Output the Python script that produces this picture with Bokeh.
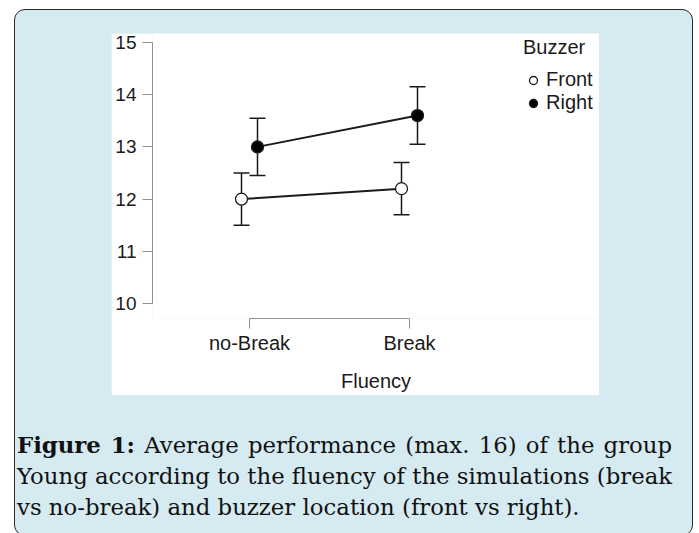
from bokeh.plotting import figure
from bokeh.models import (Legend, LegendItem, Whisker, ColumnDataSource, FixedTicker,
                          Div, Range1d, TeeHead)
from bokeh.layouts import column
from bokeh.transform import dodge
from bokeh.embed import file_html
from bokeh.resources import INLINE

# ---- data ----
fluency_labels = ["no-Break", "Break"]
fluency_pos = [1, 2]
front_mean = [12.0, 12.2]
front_lo = [11.5, 11.7]
front_hi = [12.5, 12.7]
right_mean = [13.0, 13.6]
right_lo = [12.45, 13.05]
right_hi = [13.55, 14.15]
y_ticks = [10, 11, 12, 13, 14, 15]
series_names = ["Front", "Right"]

SANS = "Liberation Sans"
AXIS_GREY = "#8f8f8f"
INK = "#1a1a1a"

p = figure(width=488, height=362,
           x_range=Range1d(0.39375, 3.1875), y_range=Range1d(9.7126, 15.172),
           output_backend="svg", toolbar_location=None,
           min_border_left=41, min_border_right=0, min_border_top=0, min_border_bottom=77)
p.background_fill_color = "white"
p.border_fill_color = "white"
p.outline_line_color = None
p.xgrid.visible = False
p.ygrid.visible = False

xa = p.xaxis[0]
xa.ticker = FixedTicker(ticks=fluency_pos)
xa.major_label_overrides = {k: v for k, v in zip(fluency_pos, fluency_labels)}
xa.bounds = (fluency_pos[0], fluency_pos[-1])
xa.axis_label = "Fluency"
ya = p.yaxis[0]
ya.ticker = FixedTicker(ticks=y_ticks)
ya.bounds = (y_ticks[0], y_ticks[-1])

for ax in (xa, ya):
    ax.axis_line_color = AXIS_GREY
    ax.axis_line_width = 1
    ax.major_tick_line_color = AXIS_GREY
    ax.major_tick_out = 10
    ax.major_tick_in = 0
    ax.minor_tick_line_color = None
    ax.major_label_text_font = SANS
    ax.major_label_text_color = INK
    ax.axis_label_text_font = SANS
    ax.axis_label_text_color = INK
    ax.axis_label_text_font_style = "normal"
    ax.axis_label_text_font_size = "20px"
xa.major_label_text_font_size = "20px"
ya.major_label_text_font_size = "19px"
xa.major_label_standoff = 3
ya.major_label_standoff = 6
xa.axis_label_standoff = 13

src_front = ColumnDataSource(dict(x=fluency_pos, y=front_mean, lo=front_lo, hi=front_hi))
src_right = ColumnDataSource(dict(x=fluency_pos, y=right_mean, lo=right_lo, hi=right_hi))

offsets = {"Front": -0.05, "Right": 0.05}
fills = {"Front": "white", "Right": "black"}
renderers = {}
for name, src in (("Front", src_front), ("Right", src_right)):
    xd = dodge("x", offsets[name], range=p.x_range)
    p.line(x=xd, y="y", source=src, line_color=INK, line_width=2)
    w = Whisker(base=xd, lower="lo", upper="hi", source=src, level="underlay",
                line_color=INK, line_width=1.5,
                upper_head=TeeHead(size=16, line_color=INK, line_width=1.5),
                lower_head=TeeHead(size=16, line_color=INK, line_width=1.5))
    p.add_layout(w)
    renderers[name] = p.scatter(x=xd, y="y", source=src, size=12, fill_color=fills[name],
                                line_color=INK, line_width=1.3)

legend = Legend(items=[LegendItem(label=n, renderers=[renderers[n]]) for n in series_names],
                title="Buzzer", location=(371, 204),
                title_text_font=SANS, title_text_font_size="20px", title_text_font_style="normal",
                title_text_color=INK, title_standoff=9,
                label_text_font=SANS, label_text_font_size="20px", label_text_color=INK,
                glyph_width=20, glyph_height=22, label_height=22, label_standoff=3,
                spacing=0, padding=0, margin=0,
                border_line_color=None, background_fill_alpha=0)
p.add_layout(legend)
p.margin = (23, 0, 0, 96)

caption_html = (
    '<div style="font-family:\'DejaVu Serif\'; font-size:22.8px; line-height:31px; color:#111; white-space:nowrap;">'
    '<div style="text-align:justify; text-align-last:justify;"><b>Figure 1:</b> Average performance (max. 16) of the group</div>'
    '<div style="text-align:justify; text-align-last:justify;">Young according to the fluency of the simulations (break</div>'
    '<div>vs no-break) and buzzer location (front vs right).</div>'
    '</div>'
)
cap = Div(text=caption_html, width=667, margin=(35, 0, 0, 2))

outer = column(p, cap, width=679, height=527, margin=(9, 0, 0, 14),
               styles={"background-color": "#d6ebf1", "border": "1.5px solid #2a2a2a",
                       "border-radius": "11px", "margin-bottom": "-30px"})

open("out.html", "w").write(file_html(outer, INLINE))
